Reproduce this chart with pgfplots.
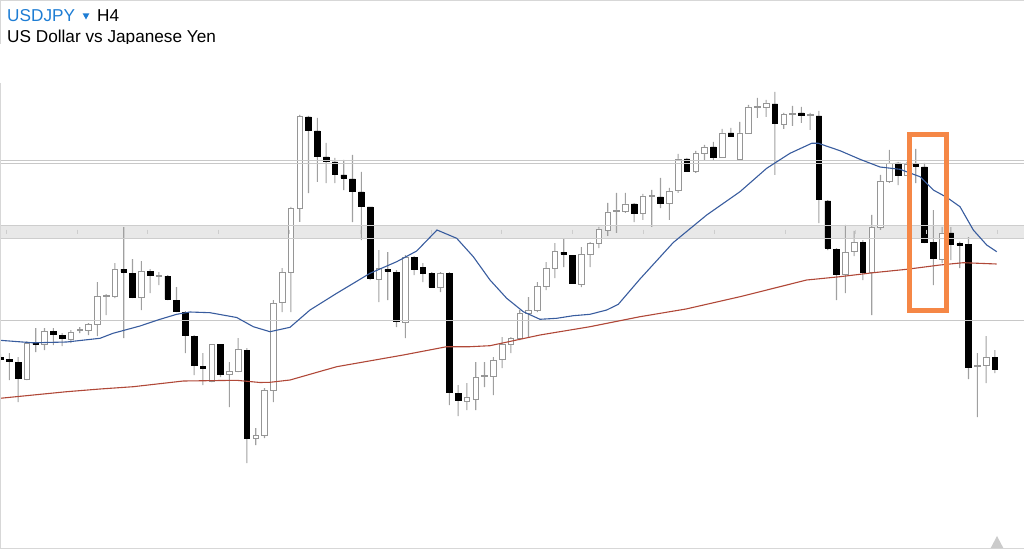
\documentclass[border=0pt]{standalone}
\usepackage{fontspec}
\setmainfont{Liberation Sans}
\usepackage{pgfplots}
\usepackage{pgfplotstable}
\pgfplotsset{compat=1.18}

\definecolor{maBlue}{RGB}{56,92,158}
\definecolor{maRed}{RGB}{176,72,56}
\definecolor{boxOrange}{RGB}{245,135,70}
\definecolor{lineGray}{RGB}{200,200,200}
\definecolor{bandFill}{RGB}{232,232,232}
\definecolor{bandEdge}{RGB}{205,205,205}
\definecolor{wickGray}{RGB}{160,160,160}
\definecolor{bodyGray}{RGB}{150,150,150}
\definecolor{titleBlue}{RGB}{30,125,212}
\definecolor{frameGray}{RGB}{215,215,215}

% candles in chart pixel units: i, body top, body bottom, high, low
\pgfplotstableread{
i top bot hi lo
3 343 379 341 380
5 331 344 328 350
8 332 339 330 343
9 329.5 330.5 327 333
10 324 330 323 335
11 296 324 282 336
12 295.5 296.5 294 315
13 269 296 263 298
16 271 297 261 310
18 275.5 276.5 272 285
24 344 381 344 382
26 371 374 362 407
27 349 371 338 372
29 435 438 428 445
30 390 435 388 438
31 303 390 300 402
32 272 302 268 312
33 208 272 207 312
34 116 208 115 222
43 268 279 250 302
46 257 322 255 338
50 273 287 272 292
53 397 401 383 410
54 377 399 362 410
55 375 376.5 362 387
56 360 376 357 395
57 344 359 337 368
58 338 344 337 353
59 313 338 310 340
60 310 313 297 337
61 286 310 282 312
62 268 286 262 290
63 251 268 243 278
66 254 284 247 287
67 243 254 242 267
68 229 243 227 248
69 212 230 203 236
70 210 211 193 233
71 204 211 193 213
73 196 213 194 220
74 195.5 196.5 190 227
76 191 203 188 220
77 159 190 154 193
79 153 171 151 173
80 147 153 145 161
82 133 157 129 158
84 133 159 122 159
85 107 133 105 133
86 106.5 107.5 98 118
87 103 107 100 117
89 114 124 113 129
90 113 114 106 126
92 114.5 115.5 113 130
96 252 274 225 293
97 242 251 231 256
99 227 272 215 315
100 181 227 175 230
101 163 181 150 183
103 164 175 162 176
107 233 259 227 263
111 365.5 366.5 353 417
112 357 365 336 383
}\bull

\pgfplotstableread{
i top bot hi lo
0 357 359 354 360
1 359.5 361.5 353 380
2 362.5 378.5 357 402
4 343 344.5 328 352
6 331 334 328 345
7 335 338 333 346
14 269 272 227 338
15 273 297 259 298
17 271 275 269 293
19 276 299 275 300
20 300 311 287 312
21 312 335 311 353
22 336 365 335 375
23 366 368 353 385
25 344 374 344 377
28 350 438 348 463
35 117 130 116 193
36 131 156 118 182
37 157 161 143 183
38 162 174 158 183
39 175 178 160 190
40 179 191 155 222
41 192 206 172 240
42 207 278 207 280
44 269 271 252 300
45 272 321 270 327
47 257 269 256 275
48 267 273 263 282
49 273 287 272 287
51 273 392 272 405
52 393 400 385 416
64 252 254 238 267
65 255 283 255 283
72 204 213 203 222
75 197 203 178 208
78 159 171 158 172
81 147 157 142 161
83 133 136 128 137
88 104 123 92 175
91 113 115 107 123
93 116 199 111 223
94 201 248 200 250
95 249 274 248 300
98 242 272 240 280
102 163 175 162 185
104 164 166 149 183
105 167 242 163 243
106 242.5 258.5 210 285
108 233 244 227 260
109 243.5 245 241.5 268
110 244 367 237 379
113 357 369 350 373
}\bear

\pgfplotsset{
  base/.style={at={(0,0)}, anchor=south west, scale only axis,
    width=1024bp, height=549bp, xmin=0, xmax=1024, ymin=0, ymax=549,
    y dir=reverse, hide axis},
}

\begin{document}
\begin{tikzpicture}
\useasboundingbox (0,0) rectangle (1024bp,549bp);

% band fill (under candles)
\begin{axis}[base]
\addplot[fill=bandFill, draw=none] coordinates {(0,225) (1024,225) (1024,238.5) (0,238.5)} -- cycle;
\end{axis}

% wicks of white candles
\begin{axis}[base, ybar stacked, bar width=1.1]
\addplot[draw=none, fill=none] table[x expr=0.5+8.8*\thisrow{i}, y=hi] {\bull};
\addplot[draw=none, fill=wickGray] table[x expr=0.5+8.8*\thisrow{i}, y expr=\thisrow{lo}-\thisrow{hi}] {\bull};
\end{axis}

% wicks of black candles
\begin{axis}[base, ybar stacked, bar width=1.1]
\addplot[draw=none, fill=none] table[x expr=0.5+8.8*\thisrow{i}, y=hi] {\bear};
\addplot[draw=none, fill=wickGray] table[x expr=0.5+8.8*\thisrow{i}, y expr=\thisrow{lo}-\thisrow{hi}] {\bear};
\end{axis}

% white bodies
\begin{axis}[base, ybar stacked, bar width=5.6]
\addplot[draw=none, fill=none] table[x expr=0.5+8.8*\thisrow{i}, y=top] {\bull};
\addplot[draw=bodyGray, fill=white, line width=0.8bp] table[x expr=0.5+8.8*\thisrow{i}, y expr=\thisrow{bot}-\thisrow{top}] {\bull};
\end{axis}

% black bodies
\begin{axis}[base, ybar stacked, bar width=5.6]
\addplot[draw=none, fill=none] table[x expr=0.5+8.8*\thisrow{i}, y=top] {\bear};
\addplot[draw=black, fill=black, line width=0.6bp] table[x expr=0.5+8.8*\thisrow{i}, y expr=\thisrow{bot}-\thisrow{top}] {\bear};
\end{axis}

% lines, moving averages, marked box
\begin{axis}[base]
\addplot[bandEdge, line width=0.8bp] coordinates {(0,225) (1024,225)};
\addplot[bandEdge, line width=0.8bp] coordinates {(0,238.5) (1024,238.5)};
\addplot[only marks, mark=|, mark size=2bp, draw=bandEdge, mark options={line width=0.8bp}] coordinates {
(6.1,231.7) (76.9,231.7) (147.7,231.7) (218.5,231.7) (289.3,231.7) (360.1,231.7) (430.9,231.7) (501.7,231.7) (572.5,231.7) (643.3,231.7) (714.1,231.7) (784.9,231.7) (855.7,231.7) (926.5,231.7) (997.3,231.7)};
\addplot[lineGray, line width=0.8bp] coordinates {(0,160.5) (1024,160.5)};
\addplot[lineGray, line width=0.8bp] coordinates {(0,163.3) (1024,163.3)};
\addplot[lineGray, line width=0.8bp] coordinates {(0,320.3) (1024,320.3)};
% red (long) moving average
\addplot[maRed, line width=1.1bp] coordinates {
(0,398.3) (66.7,391.7) (100,389) (133.3,386.7) (183.3,381) (236.7,380.3) (260,382.5) (270,382.3) (290,380) (336.7,366.7) (403.3,355) (446.7,346.7) (470,346.7) (490,345.7) (540,335) (590,326.7) (640,316.7) (686,309) (740,296.7) (806.7,280) (840,276.7) (873.3,272.7) (906.7,269.3) (940,265) (963.3,262.7) (996.7,264)};
% blue (short) moving average
\addplot[maBlue, line width=1.1bp] coordinates {
(0,340.3) (33,342.8) (66.7,342) (100,338.3) (113,333.3) (140,326) (160,319.3) (176.7,314.3) (190,312) (210,312.7) (236.7,317.5) (253.3,326.7) (270,331.7) (290,327.3) (310,310) (336.7,293.3) (370,273.3) (396.7,261.7) (416.7,251) (437,230) (456.7,238.3) (473.3,256.7) (490,280) (506.7,298.3) (523.3,311.7) (540,319.3) (556.7,318.3) (573.3,315.7) (590,314.3) (606.7,310) (618.3,304.3) (640,279) (673.3,242.5) (706.7,215) (740,191.7) (766.7,168.3) (790,153.3) (811.7,143.3) (818.3,143.3) (840,150.7) (860,159.3) (880,167) (900,169.3) (920,176.7) (933.3,190) (946.7,197.3) (960,206.7) (973.3,230) (986.7,245) (996.7,251.7)};
% highlight box
\addplot[boxOrange, line width=5bp, line join=miter] coordinates {(909.2,134.2) (946.3,134.2) (946.3,310.8) (909.2,310.8)} -- cycle;
\end{axis}

% frame and header
\draw[frameGray, line width=1bp] (0,548.5bp) -- (1024bp,548.5bp);
\draw[frameGray, line width=1bp] (0.5bp,549bp) -- (0.5bp,505bp);
\draw[frameGray, line width=1bp] (0.5bp,466bp) -- (0.5bp,0);
\draw[frameGray, line width=1bp] (0,0.5bp) -- (1024bp,0.5bp);
\fill[frameGray!90!black!85] (990.7bp,1bp) -- (1003.3bp,1bp) -- (997bp,13bp) -- cycle;

\node[anchor=base west, inner sep=0, text=titleBlue, font=\fontsize{17.2bp}{21bp}\selectfont] at (7bp,527.3bp) {USDJPY};
\fill[titleBlue] (82.7bp,535.5bp) -- (89.3bp,535.5bp) -- (86bp,529.5bp) -- cycle;
\node[anchor=base west, inner sep=0, font=\fontsize{17.2bp}{21bp}\selectfont] at (97bp,527.3bp) {H4};
\begin{scope}
\clip (0,505.5bp) rectangle (1024bp,549bp);
\node[anchor=base west, inner sep=0, font=\fontsize{17.2bp}{21bp}\selectfont] at (7bp,506.3bp) {US Dollar vs Japanese Yen};
\end{scope}
\end{tikzpicture}
\end{document}
